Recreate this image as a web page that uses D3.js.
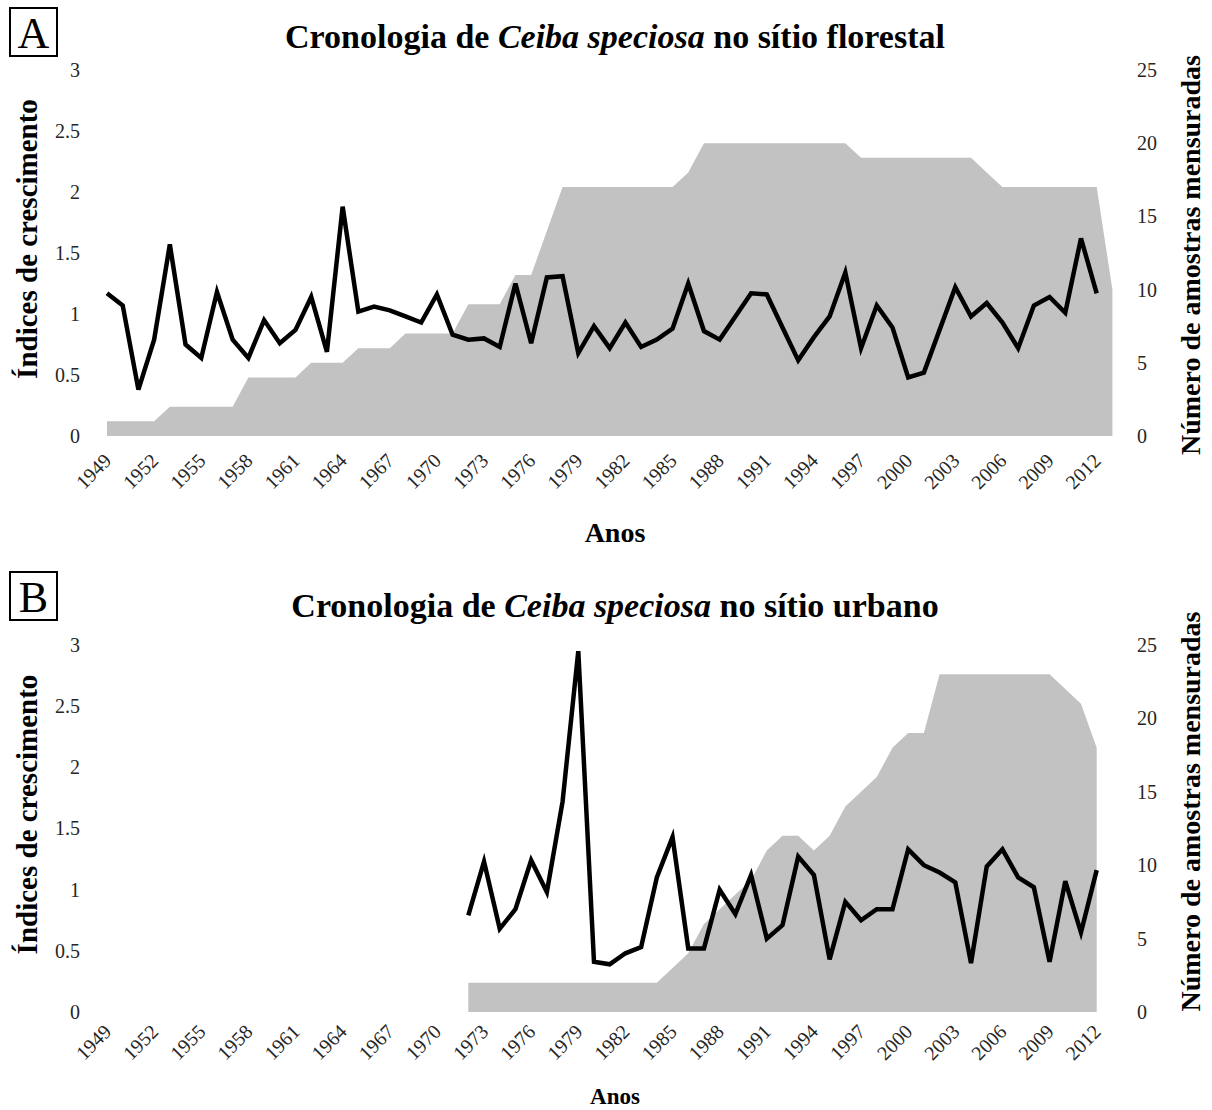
<!DOCTYPE html>
<html>
<head>
<script src="https://d3js.org/d3.v7.min.js"></script>
<style>
  body { margin: 0; background: #fff; }
  svg text { font-family: "Liberation Serif", "Times New Roman", serif; }
  .tick text { fill: #262626; font-size: 20px; }
</style>
</head>
<body>
<div id="chart"></div>
<script>
// categories (anos)
var years = [1949,1950,1951,1952,1953,1954,1955,1956,1957,1958,
             1959,1960,1961,1962,1963,1964,1965,1966,1967,1968,
             1969,1970,1971,1972,1973,1974,1975,1976,1977,1978,
             1979,1980,1981,1982,1983,1984,1985,1986,1987,1988,
             1989,1990,1991,1992,1993,1994,1995,1996,1997,1998,
             1999,2000,2001,2002,2003,2004,2005,2006,2007,2008,
             2009,2010,2011,2012,2013];
var yearLabels = [1949,1952,1955,1958,1961,1964,1967,1970,1973,1976,1979,1982,
                  1985,1988,1991,1994,1997,2000,2003,2006,2009,2012];
var indexTicks = [0, 0.5, 1, 1.5, 2, 2.5, 3];
var countTicks = [0, 5, 10, 15, 20, 25];

// A - sitio florestal
var forestIndex = [1.17,1.07,0.38,0.79,1.57,0.75,0.64,1.18,0.79,0.64,
                   0.95,0.76,0.87,1.14,0.69,1.88,1.02,1.06,1.03,0.98,
                   0.93,1.16,0.83,0.79,0.80,0.73,1.25,0.76,1.30,1.31,
                   0.68,0.90,0.72,0.93,0.73,0.79,0.88,1.25,0.86,0.79,
                   0.98,1.17,1.16,0.89,0.62,0.81,0.98,1.34,0.72,1.07,
                   0.89,0.48,0.52,0.87,1.22,0.98,1.09,0.93,0.72,1.07,
                   1.14,1.01,1.62,1.17,null];
var forestSamples = [1,1,1,1,2,2,2,2,2,4,
                     4,4,4,5,5,5,6,6,6,7,
                     7,7,7,9,9,9,11,11,14,17,
                     17,17,17,17,17,17,17,18,20,20,
                     20,20,20,20,20,20,20,20,19,19,
                     19,19,19,19,19,19,18,17,17,17,
                     17,17,17,17,10];

// B - sitio urbano
var urbanIndex = [null,null,null,null,null,null,null,null,null,null,
                  null,null,null,null,null,null,null,null,null,null,
                  null,null,null,0.79,1.23,0.68,0.84,1.24,0.98,1.72,
                  2.95,0.41,0.39,0.48,0.53,1.10,1.43,0.52,0.52,1.00,
                  0.80,1.12,0.60,0.71,1.27,1.12,0.43,0.90,0.75,0.84,
                  0.84,1.33,1.20,1.14,1.06,0.40,1.19,1.33,1.10,1.02,
                  0.41,1.07,0.65,1.16,null];
var urbanSamples = [null,null,null,null,null,null,null,null,null,null,
                    null,null,null,null,null,null,null,null,null,null,
                    null,null,null,2,2,2,2,2,2,2,
                    2,2,2,2,2,2,3,4,6,7,
                    8,9,11,12,12,11,12,14,15,16,
                    18,19,19,23,23,23,23,23,23,23,
                    23,22,21,18,null];

var W = 1212, H = 1110;
var svg = d3.select("#chart").append("svg")
    .attr("width", W).attr("height", H);

var x = d3.scalePoint().domain(years).range([107, 1112.4]);

function drawPanel(opt) {
    var yL = d3.scaleLinear().domain([0, 3]).range([opt.bottom, opt.top]);
    var yR = d3.scaleLinear().domain([0, 25]).range([opt.bottom, opt.top]);

    var rows = years.map(function(yr, i) {
        return { year: yr, idx: opt.index[i], n: opt.samples[i] };
    });

    var area = d3.area()
        .defined(function(d) { return d.n != null; })
        .x(function(d) { return x(d.year); })
        .y0(yR(0))
        .y1(function(d) { return yR(d.n); });

    svg.append("path")
        .datum(rows)
        .attr("d", area)
        .attr("fill", "#c2c2c2");

    var line = d3.line()
        .defined(function(d) { return d.idx != null; })
        .x(function(d) { return x(d.year); })
        .y(function(d) { return yL(d.idx); });

    svg.append("path")
        .datum(rows)
        .attr("d", line)
        .attr("fill", "none")
        .attr("stroke", "#000")
        .attr("stroke-width", 4.5)
        .attr("stroke-linejoin", "miter");

    // left axis
    var gl = svg.append("g")
        .attr("transform", "translate(88,0)")
        .call(d3.axisLeft(yL).tickValues(indexTicks).tickSize(0).tickPadding(8)
            .tickFormat(function(d) { return String(d); }));
    gl.select(".domain").remove();

    // right axis
    var gr = svg.append("g")
        .attr("transform", "translate(1129,0)")
        .call(d3.axisRight(yR).tickValues(countTicks).tickSize(0).tickPadding(8));
    gr.select(".domain").remove();

    // bottom axis
    var gb = svg.append("g")
        .attr("transform", "translate(0," + (opt.bottom + opt.labelOff) + ")")
        .call(d3.axisBottom(x).tickValues(yearLabels).tickSize(0));
    gb.select(".domain").remove();
    gb.selectAll("text")
        .attr("x", 0).attr("y", 0).attr("dy", "0.35em")
        .attr("text-anchor", "end")
        .attr("transform", "rotate(-45)");

    // box label
    svg.append("rect")
        .attr("x", 10).attr("y", opt.boxY)
        .attr("width", 47).attr("height", 48)
        .attr("fill", "none").attr("stroke", "#000").attr("stroke-width", 2);
    svg.append("text")
        .attr("x", 33.5).attr("y", opt.boxY + 40)
        .attr("text-anchor", "middle")
        .style("font-size", "44px")
        .text(opt.letter);

    // title
    var t = svg.append("text")
        .attr("x", 615).attr("y", opt.titleY)
        .attr("text-anchor", "middle")
        .style("font-size", "34px").style("font-weight", "bold");
    t.append("tspan").text("Cronologia de ");
    t.append("tspan").style("font-style", "italic").text("Ceiba speciosa");
    t.append("tspan").text(" no sítio " + opt.site);

    // axis titles
    var mid = (opt.top + opt.bottom) / 2;
    svg.append("text")
        .attr("transform", "translate(37," + (mid - 14) + ") rotate(-90)")
        .attr("text-anchor", "middle")
        .style("font-size", "29px").style("font-weight", "bold")
        .text("Índices de crescimento");
    svg.append("text")
        .attr("transform", "translate(1200," + (mid + opt.rightShift) + ") rotate(-90)")
        .attr("text-anchor", "middle")
        .style("font-size", "28px").style("font-weight", "bold")
        .text("Número de amostras mensuradas");
    svg.append("text")
        .attr("x", 615).attr("y", opt.anosY)
        .attr("text-anchor", "middle")
        .style("font-size", opt.anosSize).style("font-weight", "bold")
        .text("Anos");
}

drawPanel({ top: 70, bottom: 436, index: forestIndex, samples: forestSamples,
            letter: "A", boxY: 8, titleY: 48, site: "florestal", rightShift: 2,
            labelOff: 21, anosY: 542, anosSize: "28px" });
drawPanel({ top: 645, bottom: 1012, index: urbanIndex, samples: urbanSamples,
            letter: "B", boxY: 572, titleY: 617, site: "urbano", rightShift: -17,
            labelOff: 16, anosY: 1104, anosSize: "23px" });
</script>
</body>
</html>
